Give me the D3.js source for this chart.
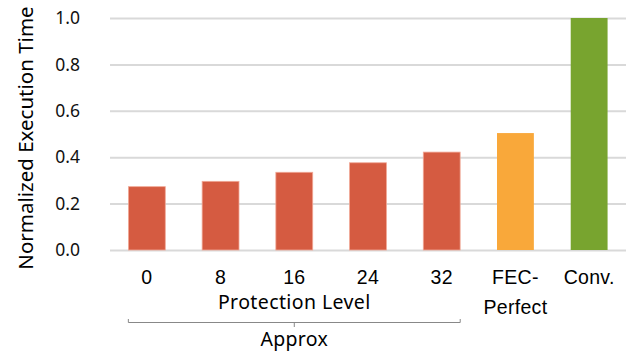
<!DOCTYPE html>
<html>
<head>
<meta charset="utf-8">
<script src="https://cdn.jsdelivr.net/npm/d3@7"></script>
<style>
  html, body { margin: 0; padding: 0; background: #fff; }
  svg { display: block; font-family: "Noto Sans", "Open Sans", sans-serif; }
</style>
</head>
<body>
<svg id="chart" width="631" height="356"></svg>
<script>
// Normalized execution time per configuration
const categories = ["0", "8", "16", "24", "32", "FEC-\nPerfect", "Conv."];
const values = [0.273, 0.296, 0.335, 0.376, 0.422, 0.504, 1.0];
const groups = ["approx", "approx", "approx", "approx", "approx", "fec", "conv"];
const yTicks = [0, 0.2, 0.4, 0.6, 0.8, 1.0];
const yTitle = "Normalized Execution Time";
const groupTitle = "Protection Level";
const bracketTitle = "Approx";

const colors = { approx: "#D55B41", fec: "#F9A83A", conv: "#78A42F" };
const labelSize = 19.5;

const svg = d3.select("#chart");
const plotLeft = 110, plotRight = 626, plotTop = 18, plotBottom = 250;

const x = d3.scaleBand().domain(d3.range(categories.length)).range([plotLeft, plotRight]).paddingInner(0.5).paddingOuter(0.25);
const y = d3.scaleLinear().domain([0, 1]).range([plotBottom, plotTop]);

// gridlines + y tick labels
const yAxis = svg.append("g")
  .attr("transform", `translate(${plotLeft},0)`)
  .call(d3.axisLeft(y).tickValues(yTicks).tickFormat(d3.format(".1f")).tickSize(-(plotRight - plotLeft)).tickPadding(30));
yAxis.select(".domain").remove();
yAxis.selectAll(".tick line").attr("stroke", "#d9d9d9").attr("stroke-width", 2);
yAxis.selectAll(".tick text").attr("font-size", 17.5).attr("fill", "#111").attr("font-family", "Noto Sans");

// bars
svg.append("g").selectAll("rect")
  .data(values)
  .join("rect")
  .attr("x", (d, i) => x(i))
  .attr("y", d => y(d))
  .attr("width", x.bandwidth())
  .attr("height", d => y(0) - y(d))
  .attr("fill", (d, i) => colors[groups[i]])
  .attr("stroke", (d, i) => groups[i] === "approx" ? "#f0a896" : "none")
  .attr("stroke-width", 0.8);

// category labels
const xAxis = svg.append("g")
  .attr("transform", `translate(0,${plotBottom})`)
  .call(d3.axisBottom(x).tickSize(0).tickPadding(0).tickFormat(""));
xAxis.select(".domain").remove();
xAxis.selectAll(".tick text").remove();
xAxis.selectAll(".tick").each(function(i) {
  const lines = categories[i].split("\n");
  const t = d3.select(this).append("text")
    .attr("text-anchor", "middle")
    .attr("font-size", labelSize)
    .attr("letter-spacing", 0.3)
    .attr("fill", "#000");
  lines.forEach((s, k) => t.append("tspan").attr("x", 0).attr("y", 34 + k * 30).text(s));
});

// group title and bracket under the protection-level bars
const gx0 = x(0) + x.bandwidth() / 2 - 18.5, gx1 = x(4) + x.bandwidth() / 2 + 18.5;
const gmid = (gx0 + gx1) / 2;
svg.append("text").attr("x", gmid).attr("y", 309).attr("text-anchor", "middle")
  .attr("font-size", labelSize).attr("letter-spacing", 0.4).attr("fill", "#000").text(groupTitle);
svg.append("path")
  .attr("d", `M${gx0},319 V322.5 H${gx1} V319 M${gmid},322.5 V327`)
  .attr("fill", "none").attr("stroke", "#888").attr("stroke-width", 1);
svg.append("text").attr("x", gmid).attr("y", 346).attr("text-anchor", "middle")
  .attr("font-size", labelSize).attr("letter-spacing", 0.3).attr("fill", "#000").text(bracketTitle);

// y axis title
svg.append("text")
  .attr("transform", "translate(32.5,138) rotate(-90)")
  .attr("text-anchor", "middle")
  .attr("font-size", 20.5).attr("fill", "#000")
  .text(yTitle);
</script>
</body>
</html>
